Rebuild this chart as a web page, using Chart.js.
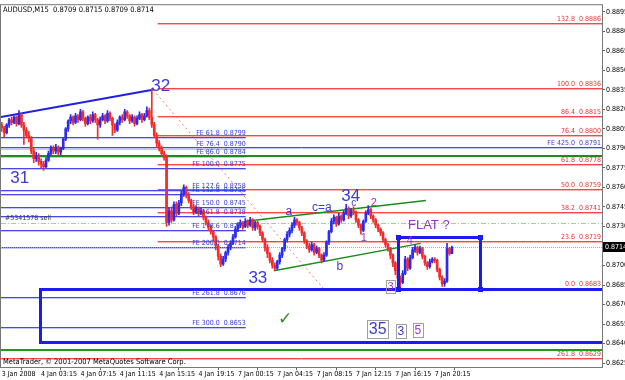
<!DOCTYPE html>
<html>
<head>
<meta charset="utf-8">
<script src="https://cdn.jsdelivr.net/npm/chart.js@4.4.1/dist/chart.umd.min.js"></script>
<style>
    html, body { margin: 0; padding: 0; background: #fff; }
</style>
</head>
<body>
<canvas id="chart" width="625" height="380"></canvas>
<script>
// ===== DATA (AUDUSD M15) =====
const firstOpen = 0.8808;
const closes = [
    0.8806, 0.8802, 0.8808, 0.8812, 0.8810, 0.8814, 0.8809, 0.8816, 0.8808, 0.8804,
    0.8800, 0.8798, 0.8788, 0.8782, 0.8784, 0.8780, 0.8778, 0.8776, 0.8781, 0.8786,
    0.8790, 0.8788, 0.8791, 0.8787, 0.8790, 0.8797, 0.8805, 0.8811, 0.8814, 0.8810,
    0.8815, 0.8812, 0.8818, 0.8813, 0.8809, 0.8814, 0.8811, 0.8816, 0.8812, 0.8808,
    0.8812, 0.8815, 0.8811, 0.8817, 0.8813, 0.8808, 0.8804, 0.8810, 0.8814, 0.8812,
    0.8818, 0.8815, 0.8811, 0.8814, 0.8809, 0.8813, 0.8816, 0.8812, 0.8815, 0.8819,
    0.8814, 0.8808, 0.8800, 0.8794, 0.8790, 0.8786, 0.8783, 0.8733, 0.8742, 0.8735,
    0.8747, 0.8740, 0.8748, 0.8755, 0.8760, 0.8754, 0.8750, 0.8745, 0.8741, 0.8744,
    0.8740, 0.8742, 0.8737, 0.8733, 0.8730, 0.8726, 0.8722, 0.8715, 0.8707, 0.8701,
    0.8705, 0.8710, 0.8714, 0.8717, 0.8722, 0.8728, 0.8731, 0.8733, 0.8730, 0.8734,
    0.8731, 0.8735, 0.8729, 0.8733, 0.8730, 0.8725, 0.8720, 0.8714, 0.8709, 0.8704,
    0.8700, 0.8698, 0.8703, 0.8708, 0.8713, 0.8720, 0.8724, 0.8727, 0.8731, 0.8735,
    0.8733, 0.8729, 0.8725, 0.8719, 0.8715, 0.8712, 0.8716, 0.8710, 0.8713, 0.8708,
    0.8704, 0.8708, 0.8718, 0.8726, 0.8734, 0.8737, 0.8732, 0.8738, 0.8735, 0.8740,
    0.8744, 0.8738, 0.8742, 0.8741, 0.8735, 0.8731, 0.8727, 0.8734, 0.8740, 0.8743,
    0.8738, 0.8735, 0.8731, 0.8728, 0.8725, 0.8720, 0.8716, 0.8713, 0.8708, 0.8702,
    0.8696, 0.8690, 0.8687, 0.8694, 0.8705, 0.8698, 0.8706, 0.8712, 0.8714, 0.8710,
    0.8713, 0.8707, 0.8702, 0.8699, 0.8703, 0.8705, 0.8704, 0.8697, 0.8691, 0.8686,
    0.8688, 0.8713, 0.8709, 0.8714
];
const highs = [
    0.8810, 0.8807, 0.8809, 0.8813, 0.8814, 0.8815, 0.8815, 0.8819, 0.8817, 0.8810,
    0.8806, 0.8803, 0.8799, 0.8790, 0.8787, 0.8786, 0.8782, 0.8780, 0.8783, 0.8788,
    0.8792, 0.8792, 0.8793, 0.8792, 0.8791, 0.8798, 0.8806, 0.8812, 0.8816, 0.8815,
    0.8817, 0.8816, 0.8820, 0.8819, 0.8814, 0.8815, 0.8816, 0.8818, 0.8817, 0.8813,
    0.8814, 0.8817, 0.8816, 0.8819, 0.8818, 0.8814, 0.8809, 0.8812, 0.8815, 0.8816,
    0.8820, 0.8819, 0.8816, 0.8816, 0.8815, 0.8815, 0.8818, 0.8817, 0.8817, 0.8822,
    0.8821, 0.8836, 0.8810, 0.8802, 0.8796, 0.8792, 0.8788, 0.8785, 0.8744, 0.8745,
    0.8749, 0.8749, 0.8750, 0.8757, 0.8762, 0.8761, 0.8756, 0.8751, 0.8747, 0.8746,
    0.8745, 0.8744, 0.8743, 0.8738, 0.8735, 0.8731, 0.8727, 0.8723, 0.8716, 0.8709,
    0.8707, 0.8711, 0.8716, 0.8719, 0.8724, 0.8730, 0.8733, 0.8735, 0.8734, 0.8736,
    0.8735, 0.8737, 0.8736, 0.8734, 0.8734, 0.8731, 0.8726, 0.8721, 0.8716, 0.8710,
    0.8706, 0.8702, 0.8704, 0.8710, 0.8714, 0.8721, 0.8726, 0.8729, 0.8733, 0.8737,
    0.8736, 0.8734, 0.8730, 0.8726, 0.8720, 0.8717, 0.8718, 0.8717, 0.8715, 0.8714,
    0.8709, 0.8710, 0.8719, 0.8727, 0.8736, 0.8739, 0.8738, 0.8740, 0.8739, 0.8742,
    0.8747, 0.8745, 0.8744, 0.8745, 0.8742, 0.8736, 0.8732, 0.8735, 0.8742, 0.8746,
    0.8744, 0.8739, 0.8736, 0.8732, 0.8729, 0.8726, 0.8721, 0.8717, 0.8714, 0.8709,
    0.8703, 0.8697, 0.8692, 0.8696, 0.8707, 0.8706, 0.8708, 0.8714, 0.8716, 0.8715,
    0.8715, 0.8714, 0.8708, 0.8703, 0.8705, 0.8706, 0.8706, 0.8705, 0.8698, 0.8692,
    0.8690, 0.8717, 0.8714, 0.8715
];
const lows = [
    0.8803, 0.8799, 0.8801, 0.8806, 0.8808, 0.8809, 0.8807, 0.8808, 0.8806, 0.8793,
    0.8798, 0.8795, 0.8786, 0.8779, 0.8780, 0.8777, 0.8775, 0.8773, 0.8775, 0.8780,
    0.8785, 0.8786, 0.8786, 0.8785, 0.8785, 0.8789, 0.8796, 0.8803, 0.8809, 0.8808,
    0.8809, 0.8810, 0.8811, 0.8811, 0.8807, 0.8808, 0.8809, 0.8810, 0.8810, 0.8797,
    0.8806, 0.8811, 0.8809, 0.8810, 0.8811, 0.8800, 0.8802, 0.8803, 0.8808, 0.8810,
    0.8811, 0.8813, 0.8809, 0.8810, 0.8807, 0.8808, 0.8812, 0.8810, 0.8811, 0.8814,
    0.8812, 0.8806, 0.8798, 0.8791, 0.8788, 0.8784, 0.8781, 0.8730, 0.8731, 0.8733,
    0.8734, 0.8738, 0.8739, 0.8746, 0.8753, 0.8752, 0.8748, 0.8743, 0.8739, 0.8740,
    0.8738, 0.8739, 0.8735, 0.8731, 0.8727, 0.8724, 0.8719, 0.8712, 0.8704, 0.8699,
    0.8700, 0.8703, 0.8708, 0.8712, 0.8716, 0.8721, 0.8726, 0.8729, 0.8728, 0.8729,
    0.8729, 0.8730, 0.8727, 0.8727, 0.8728, 0.8723, 0.8718, 0.8711, 0.8706, 0.8702,
    0.8698, 0.8696, 0.8697, 0.8701, 0.8706, 0.8711, 0.8718, 0.8722, 0.8725, 0.8729,
    0.8731, 0.8727, 0.8723, 0.8717, 0.8713, 0.8710, 0.8711, 0.8708, 0.8709, 0.8706,
    0.8702, 0.8703, 0.8707, 0.8716, 0.8725, 0.8732, 0.8730, 0.8731, 0.8733, 0.8734,
    0.8739, 0.8736, 0.8737, 0.8739, 0.8733, 0.8729, 0.8724, 0.8726, 0.8733, 0.8739,
    0.8736, 0.8733, 0.8729, 0.8726, 0.8723, 0.8718, 0.8714, 0.8711, 0.8705, 0.8699,
    0.8693, 0.8686, 0.8683, 0.8686, 0.8693, 0.8696, 0.8697, 0.8705, 0.8710, 0.8708,
    0.8709, 0.8705, 0.8700, 0.8697, 0.8698, 0.8702, 0.8702, 0.8695, 0.8689, 0.8684,
    0.8684, 0.8687, 0.8708, 0.8709
];

const timeLabels = ['3 Jan 2008', '4 Jan 03:15', '4 Jan 07:15', '4 Jan 11:15', '4 Jan 15:15', '4 Jan 19:15',
                    '7 Jan 00:15', '7 Jan 04:15', '7 Jan 08:15', '7 Jan 12:15', '7 Jan 16:15', '7 Jan 20:15'];
const timeTickBars = [0, 16, 32, 48, 64, 80, 96, 112, 128, 144, 160, 176];
const priceTicks = [0.8625, 0.8640, 0.8655, 0.8670, 0.8685, 0.8700, 0.8715, 0.8730, 0.8745, 0.8760,
                    0.8775, 0.8790, 0.8805, 0.8820, 0.8835, 0.8850, 0.8865, 0.8880, 0.8895];

// fibo retracement (red, right side)
const fibLevels = [132.8, 100.0, 86.4, 76.4, 61.8, 50.0, 38.2, 23.6, 0.0, 261.8];
const fibPrices = [0.8886, 0.8836, 0.8815, 0.8800, 0.8778, 0.8759, 0.8741, 0.8719, 0.8683, 0.8629];
// fibo expansion (blue, left side)
const feLevels = [61.8, 76.4, 86.0, 100.0, 127.6, 132.8, 150.0, 161.8, 178.6, 200.0, 261.8, 300.0];
const fePrices = [0.8799, 0.8790, 0.8784, 0.8775, 0.8758, 0.8755, 0.8745, 0.8738, 0.8727, 0.8714, 0.8676, 0.8653];
const fe425 = [425.0, 0.8791];

const bidPrice = 0.8714;
const sellPrice = 0.8733;
const greenLevels = [0.8784, 0.8635];

// ===== CHART =====
(function() {
    'use strict';

    const FONT = "'Liberation Sans', Arial, sans-serif";
    const SMALL = "'Liberation Sans Narrow', 'DejaVu Sans Condensed', sans-serif";
    Chart.defaults.font.family = SMALL;

    const opens = closes.map((c, i) => i === 0 ? firstOpen : closes[i - 1]);
    const bull = '#2b2bf2', bear = '#f22b2b';
    const candleColors = closes.map((c, i) => c >= opens[i] ? bull : bear);

    const wicks = closes.map((c, i) => ({ x: i, y: [lows[i], highs[i]] }));
    const bodies = closes.map((c, i) => ({ x: i, y: [opens[i], c] }));

    // anchors of the hand drawn objects (bar index, price)
    const fibStartBar = 63.4, feEndBar = 99.2;
    const trendLines = [
        { pts: [[-0.4, 0.8814], [61.4, 0.8835]], color: '#1f1fe6', width: 2, dash: [] },
        { pts: [[61.5, 0.8835], [130.9, 0.8682]], color: '#ff7070', width: 1, dash: [2, 3] },
        { pts: [[99.2, 0.8734], [172.4, 0.8750]], color: '#1a8c1a', width: 1.5, dash: [] },
        { pts: [[110.6, 0.8696], [170.3, 0.8717]], color: '#1a8c1a', width: 1.5, dash: [] }
    ];
    const bigBox = { x0: 15.45, x1: 260, top: 0.8682, bottom: 0.8641 };
    const flatBox = { x0: 161, x1: 194.3, top: 0.8722, bottom: 0.8682 };

    const labels = [
        { t: '32', b: 64.6, p: 0.88373, size: 17, color: '#3b3bd6' },
        { t: '31', b: 7.3, p: 0.87672, size: 17, color: '#3b3bd6' },
        { t: '33', b: 104.1, p: 0.86903, size: 17, color: '#3b3bd6' },
        { t: '34', b: 141.9, p: 0.87535, size: 17, color: '#3b3bd6' },
        { t: 'a', b: 116.7, p: 0.87413, size: 12, color: '#3b3bd6' },
        { t: 'c=a', b: 130.1, p: 0.87444, size: 12, color: '#3b3bd6' },
        { t: 'c', b: 143.1, p: 0.87482, size: 10, color: '#3b3bd6' },
        { t: 'b', b: 137.4, p: 0.86987, size: 12, color: '#3b3bd6' },
        { t: '1', b: 147.2, p: 0.87215, size: 11, color: '#9933cc' },
        { t: '2', b: 151.2, p: 0.87482, size: 11, color: '#9933cc' },
        { t: '4', b: 165.9, p: 0.87192, size: 11, color: '#9933cc' },
        { t: 'FLAT ?', b: 173.6, p: 0.87307, size: 13, color: '#9933cc' },
        { t: '\u2713', b: 115.0, p: 0.86590, size: 17, color: '#2e8b2e' }
    ];
    const boxedLabels = [
        { t: '3', b: 158.1, p: 0.86842, size: 11, color: '#9933cc' },
        { t: '35', b: 152.8, p: 0.86514, size: 16, color: '#3b3bd6' },
        { t: '3', b: 162.2, p: 0.86499, size: 12, color: '#3b3bd6' },
        { t: '5', b: 169.1, p: 0.86507, size: 12, color: '#9933cc' }
    ];

    function hline(ctx, x0, x1, y, color, width, dash) {
        ctx.save();
        ctx.strokeStyle = color;
        ctx.lineWidth = width;
        ctx.setLineDash(dash || []);
        const yy = Math.round(y) + (width % 2 ? 0.5 : 0);
        ctx.beginPath();
        ctx.moveTo(x0, yy);
        ctx.lineTo(x1, yy);
        ctx.stroke();
        ctx.restore();
    }

    const mtObjects = {
        id: 'mtObjects',
        beforeDatasetsDraw(chart) {
            const { ctx, chartArea: a, scales: { x, y } } = chart;
            ctx.save();
            ctx.beginPath();
            ctx.rect(a.left, a.top, a.right - a.left, a.bottom - a.top);
            ctx.clip();

            // fibo retracement lines
            fibPrices.forEach(p => {
                const yy = y.getPixelForValue(p);
                const x0 = p === 0.8629 ? a.left : x.getPixelForValue(fibStartBar);
                hline(ctx, x0, a.right, yy + 1, '#ffb4b4', 1);
                hline(ctx, x0, a.right, yy, '#ff4545', 1);
            });

            // fibo expansion lines
            const feEnd = x.getPixelForValue(feEndBar);
            fePrices.forEach(p => {
                const yy = y.getPixelForValue(p);
                hline(ctx, a.left, feEnd, yy + 1, '#c4c4ff', 1);
                hline(ctx, a.left, feEnd, yy, '#4646f5', 1);
            });
            hline(ctx, a.left, a.right, y.getPixelForValue(fe425[1]) + 1, '#c4c4ff', 1);
            hline(ctx, a.left, a.right, y.getPixelForValue(fe425[1]), '#4646f5', 1);

            // other horizontals
            hline(ctx, a.left, a.right, y.getPixelForValue(greenLevels[0]), '#1e8a1e', 2);
            hline(ctx, a.left, a.right, y.getPixelForValue(greenLevels[1]), '#1e9a1e', 2);
            hline(ctx, a.left, a.right, y.getPixelForValue(sellPrice), '#8fdc8f', 1, [5, 2, 1, 2]);
            hline(ctx, a.left, a.right, y.getPixelForValue(bidPrice), '#a6aac8', 1, [1, 1]);

            // trend lines
            trendLines.forEach(l => {
                ctx.save();
                ctx.strokeStyle = l.color;
                ctx.lineWidth = l.width;
                ctx.setLineDash(l.dash);
                ctx.beginPath();
                ctx.moveTo(x.getPixelForValue(l.pts[0][0]), y.getPixelForValue(l.pts[0][1]));
                ctx.lineTo(x.getPixelForValue(l.pts[1][0]), y.getPixelForValue(l.pts[1][1]));
                ctx.stroke();
                ctx.restore();
            });
            ctx.restore();
        },
        afterDatasetsDraw(chart) {
            const { ctx, chartArea: a, scales: { x, y } } = chart;
            ctx.save();
            ctx.beginPath();
            ctx.rect(a.left, a.top, a.right - a.left, a.bottom - a.top);
            ctx.clip();

            // rectangles
            ctx.strokeStyle = '#1c1cf2';
            ctx.lineWidth = 3;
            [bigBox, flatBox].forEach(r => {
                const x0 = x.getPixelForValue(r.x0), x1 = x.getPixelForValue(r.x1);
                const y0 = y.getPixelForValue(r.top), y1 = y.getPixelForValue(r.bottom);
                ctx.strokeRect(Math.round(x0) + 0.5, Math.round(y0) + 0.5, Math.round(x1 - x0), Math.round(y1 - y0));
            });
            ctx.fillStyle = '#1c1cf2';
            [[flatBox.x0, flatBox.top], [flatBox.x1, flatBox.top], [flatBox.x0, flatBox.bottom], [flatBox.x1, flatBox.bottom]].forEach(c => {
                ctx.fillRect(Math.round(x.getPixelForValue(c[0])) - 2, Math.round(y.getPixelForValue(c[1])) - 2, 5, 5);
            });

            // level captions
            ctx.font = '7px ' + SMALL;
            ctx.textBaseline = 'bottom';
            ctx.textAlign = 'right';
            ctx.fillStyle = '#e83030';
            fibLevels.forEach((lv, i) => {
                ctx.fillText(lv.toFixed(1) + '  ' + fibPrices[i].toFixed(4), a.right - 1, Math.round(y.getPixelForValue(fibPrices[i])));
            });
            ctx.fillStyle = '#3a3ad8';
            const feEnd = x.getPixelForValue(feEndBar);
            feLevels.forEach((lv, i) => {
                ctx.fillText('FE ' + lv.toFixed(1) + '  ' + fePrices[i].toFixed(4), feEnd, Math.round(y.getPixelForValue(fePrices[i])));
            });
            ctx.fillText('FE ' + fe425[0].toFixed(1) + '  ' + fe425[1].toFixed(4), a.right - 1, Math.round(y.getPixelForValue(fe425[1])));

            ctx.textAlign = 'left';
            ctx.fillStyle = '#333';
            ctx.fillText('#5341578 sell', a.left + 4, Math.round(y.getPixelForValue(sellPrice)) - 1);

            // wave labels
            ctx.textAlign = 'center';
            ctx.textBaseline = 'middle';
            labels.forEach(l => {
                ctx.font = l.size + 'px ' + FONT;
                ctx.fillStyle = l.color;
                ctx.fillText(l.t, x.getPixelForValue(l.b), y.getPixelForValue(l.p));
            });
            boxedLabels.forEach(l => {
                ctx.font = l.size + 'px ' + FONT;
                const cx = x.getPixelForValue(l.b), cy = y.getPixelForValue(l.p);
                const w = ctx.measureText(l.t).width + 3, h = l.size + 2;
                ctx.strokeStyle = '#a0a0a0';
                ctx.lineWidth = 1;
                ctx.strokeRect(Math.round(cx - w / 2) + 0.5, Math.round(cy - h / 2) + 0.5, Math.round(w), h);
                ctx.fillStyle = l.color;
                ctx.fillText(l.t, cx, cy + 1);
            });

            // header and footer
            ctx.textAlign = 'left';
            ctx.fillStyle = '#000';
            ctx.font = '7.5px ' + SMALL;
            ctx.fillText('AUDUSD,M15  0.8709 0.8715 0.8709 0.8714', a.left + 2, a.top + 5);
            ctx.fillText('MetaTrader, \u00a9 2001-2007 MetaQuotes Software Corp.', a.left + 2, a.bottom - 5);
            ctx.restore();

            // frame
            ctx.save();
            ctx.strokeStyle = '#777';
            ctx.lineWidth = 1;
            ctx.strokeRect(a.left - 0.5, a.top - 0.5, a.right - a.left + 1, a.bottom - a.top + 1);
            ctx.restore();

            // bid box on the price axis
            const by = Math.round(y.getPixelForValue(bidPrice));
            ctx.save();
            ctx.fillStyle = '#000';
            ctx.fillRect(a.right + 1, by - 5, 22, 10);
            ctx.fillStyle = '#fff';
            ctx.font = '7px ' + SMALL;
            ctx.textAlign = 'left';
            ctx.textBaseline = 'middle';
            ctx.fillText(bidPrice.toFixed(4), a.right + 3, by);
            ctx.restore();
        }
    };

    const ctx = document.getElementById('chart').getContext('2d');
    new Chart(ctx, {
        type: 'bar',
        data: {
            datasets: [
                {
                    label: 'wicks',
                    data: wicks,
                    backgroundColor: candleColors,
                    barThickness: 1,
                    grouped: false,
                    borderWidth: 0
                },
                {
                    label: 'bodies',
                    data: bodies,
                    backgroundColor: candleColors,
                    barThickness: 2,
                    minBarLength: 1,
                    grouped: false,
                    borderWidth: 0
                }
            ]
        },
        options: {
            responsive: false,
            animation: false,
            devicePixelRatio: 1,
            layout: { padding: { left: 1, top: 2, right: 0, bottom: 0 } },
            plugins: {
                legend: { display: false },
                tooltip: { enabled: false }
            },
            scales: {
                x: {
                    type: 'linear',
                    min: -0.3,
                    max: 244,
                    offset: false,
                    afterFit: s => { s.height = 13; },
                    afterBuildTicks: s => { s.ticks = timeTickBars.map(v => ({ value: v })); },
                    grid: { drawOnChartArea: false, drawTicks: true, tickLength: 3, color: '#666' },
                    border: { display: true, color: '#666' },
                    ticks: {
                        autoSkip: false,
                        maxRotation: 0,
                        align: 'start',
                        padding: 0,
                        color: '#000',
                        font: { size: 7 },
                        callback: (v, i) => timeLabels[i]
                    }
                },
                y: {
                    position: 'right',
                    min: 0.8622,
                    max: 0.8900,
                    afterFit: s => { s.width = 23; },
                    afterBuildTicks: s => { s.ticks = priceTicks.map(v => ({ value: v })); },
                    grid: { drawOnChartArea: false, tickLength: 3, color: '#666' },
                    border: { display: true, color: '#666' },
                    ticks: {
                        autoSkip: false,
                        padding: 1,
                        color: '#000',
                        font: { size: 7 },
                        callback: v => v.toFixed(4)
                    }
                }
            }
        },
        plugins: [mtObjects]
    });
})();
</script>
</body>
</html>
